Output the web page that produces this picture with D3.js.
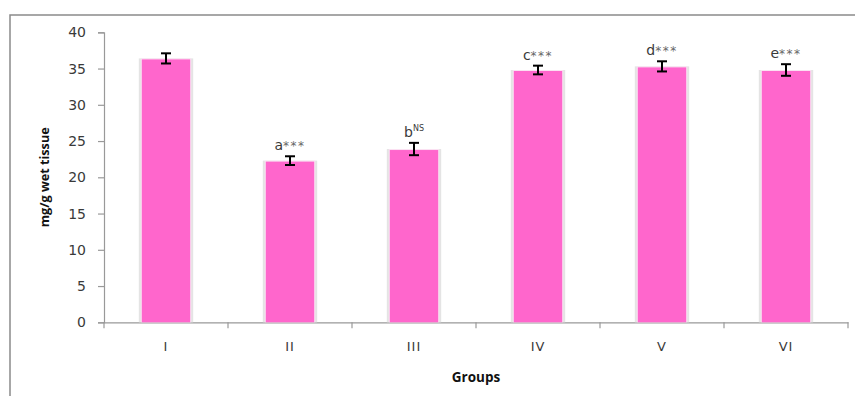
<!DOCTYPE html>
<html><head><meta charset="utf-8">
<script src="https://cdn.jsdelivr.net/npm/d3@7"></script>
<style>
body{margin:0;background:#fff}svg{display:block}
.tk text{font-family:"DejaVu Sans",Verdana,sans-serif;fill:#3a3a3a}
.ttl{font-family:"Open Sans",Lato,sans-serif;font-weight:bold;fill:#111}
</style>
</head><body>
<script>
const groups = ["I","II","III","IV","V","VI"];
const means = [36.4, 22.3, 23.9, 34.8, 35.3, 34.8];
const errors = [0.7, 0.6, 0.85, 0.6, 0.7, 0.8];
const sigLetters = ["", "a", "b", "c", "d", "e"];
const sigMarks = ["", "***", "NS", "***", "***", "***"];
const yTicks = [0,5,10,15,20,25,30,35,40];

(function(){
const W = 855, H = 396;
const svg = d3.select("body").append("svg").attr("width", W).attr("height", H);

// outer frame
svg.append("rect").attr("x",10).attr("y",15).attr("width",900).attr("height",450)
  .attr("fill","none").attr("stroke","#8a8a8a").attr("stroke-width",1.5);

const pl = 104, pr = 848, pt = 32.3, pb = 322.3;
const x = d3.scaleBand().domain(groups).range([pl, pr]).paddingInner(0.61).paddingOuter(0.305);
const y = d3.scaleLinear().domain([0, 40]).range([pb, pt]);
const band = (pr-pl)/groups.length;

// y axis
const yAxis = svg.append("g").attr("class","tk").attr("transform",`translate(${pl},0)`)
  .call(d3.axisLeft(y).tickValues(yTicks).tickSize(6).tickPadding(12));
yAxis.attr("font-family",null).attr("font-size",null);
yAxis.select(".domain").attr("stroke","#999").attr("stroke-width",1.2);
yAxis.selectAll(".tick line").attr("stroke","#999").attr("stroke-width",1.2);
yAxis.selectAll(".tick text").style("font-size","14px");

// x axis
const xb = d3.scaleBand().domain(groups).range([pl,pr]);
const xAxis = svg.append("g").attr("class","tk").attr("transform",`translate(0,${pb})`)
  .call(d3.axisBottom(xb).tickSize(0).tickPadding(19));
xAxis.attr("font-family",null).attr("font-size",null);
xAxis.select(".domain").attr("stroke","#999").attr("stroke-width",1.2);
xAxis.selectAll(".tick text").style("font-size","13px").style("letter-spacing","1px");
// boundary ticks
svg.append("g").selectAll("line").data(d3.range(groups.length+1)).join("line")
  .attr("x1",i=>pl+i*band).attr("x2",i=>pl+i*band)
  .attr("y1",pb).attr("y2",pb+6).attr("stroke","#999").attr("stroke-width",1.2);

// bar shadows
const bars = svg.append("g");
bars.selectAll("rect.sh").data(groups).join("rect").attr("class","sh")
  .attr("x",d=>x(d)-3).attr("width",x.bandwidth()+6)
  .attr("y",(d,i)=>y(means[i])).attr("height",(d,i)=>pb-y(means[i]))
  .attr("fill","#e4e4e4");
bars.selectAll("rect.in").data(groups).join("rect").attr("class","in")
  .attr("x",d=>x(d)-1).attr("width",x.bandwidth()+2)
  .attr("y",(d,i)=>y(means[i])).attr("height",(d,i)=>pb-y(means[i]))
  .attr("fill","#fbe0f2");
bars.selectAll("rect.bar").data(groups).join("rect").attr("class","bar")
  .attr("x",d=>x(d)).attr("width",x.bandwidth())
  .attr("y",(d,i)=>y(means[i])+1).attr("height",(d,i)=>pb-y(means[i])-1)
  .attr("fill","#ff66cc");

// error bars
const eg = svg.append("g").attr("stroke","#000").attr("stroke-width",2);
const lg = svg.append("g").attr("class","tk");
groups.forEach((g,i)=>{
  const cx = x(g)+x.bandwidth()/2;
  const y1 = y(means[i]+errors[i]), y0 = y(means[i]-errors[i]);
  eg.append("line").attr("x1",cx).attr("x2",cx).attr("y1",y1).attr("y2",y0);
  eg.append("line").attr("x1",cx-5).attr("x2",cx+5).attr("y1",y1).attr("y2",y1);
  eg.append("line").attr("x1",cx-5).attr("x2",cx+5).attr("y1",y0).attr("y2",y0);
  if (sigLetters[i]) {
    const t = lg.append("text").attr("x",cx).attr("y",y1-6).attr("text-anchor","middle")
      .style("font-size","14px");
    t.append("tspan").text(sigLetters[i]);
    if (sigMarks[i]==="NS") {
      t.append("tspan").style("font-size","8px").attr("dy",-6).text("NS");
    } else {
      t.append("tspan").style("font-size","12px").style("letter-spacing","1.5px")
        .style("fill","#666").text(sigMarks[i]);
    }
  }
});

// axis titles
svg.append("text").attr("class","ttl").attr("x",(pl+pr)/2).attr("y",382).attr("text-anchor","middle")
  .style("font-size","13.5px").text("Groups");
svg.append("text").attr("class","ttl").attr("transform",`translate(49,${(pt+pb)/2}) rotate(-90)`)
  .attr("text-anchor","middle").attr("textLength",100).attr("lengthAdjust","spacingAndGlyphs")
  .style("font-size","13px").text("mg/g wet tissue");
})();
</script>
</body></html>
